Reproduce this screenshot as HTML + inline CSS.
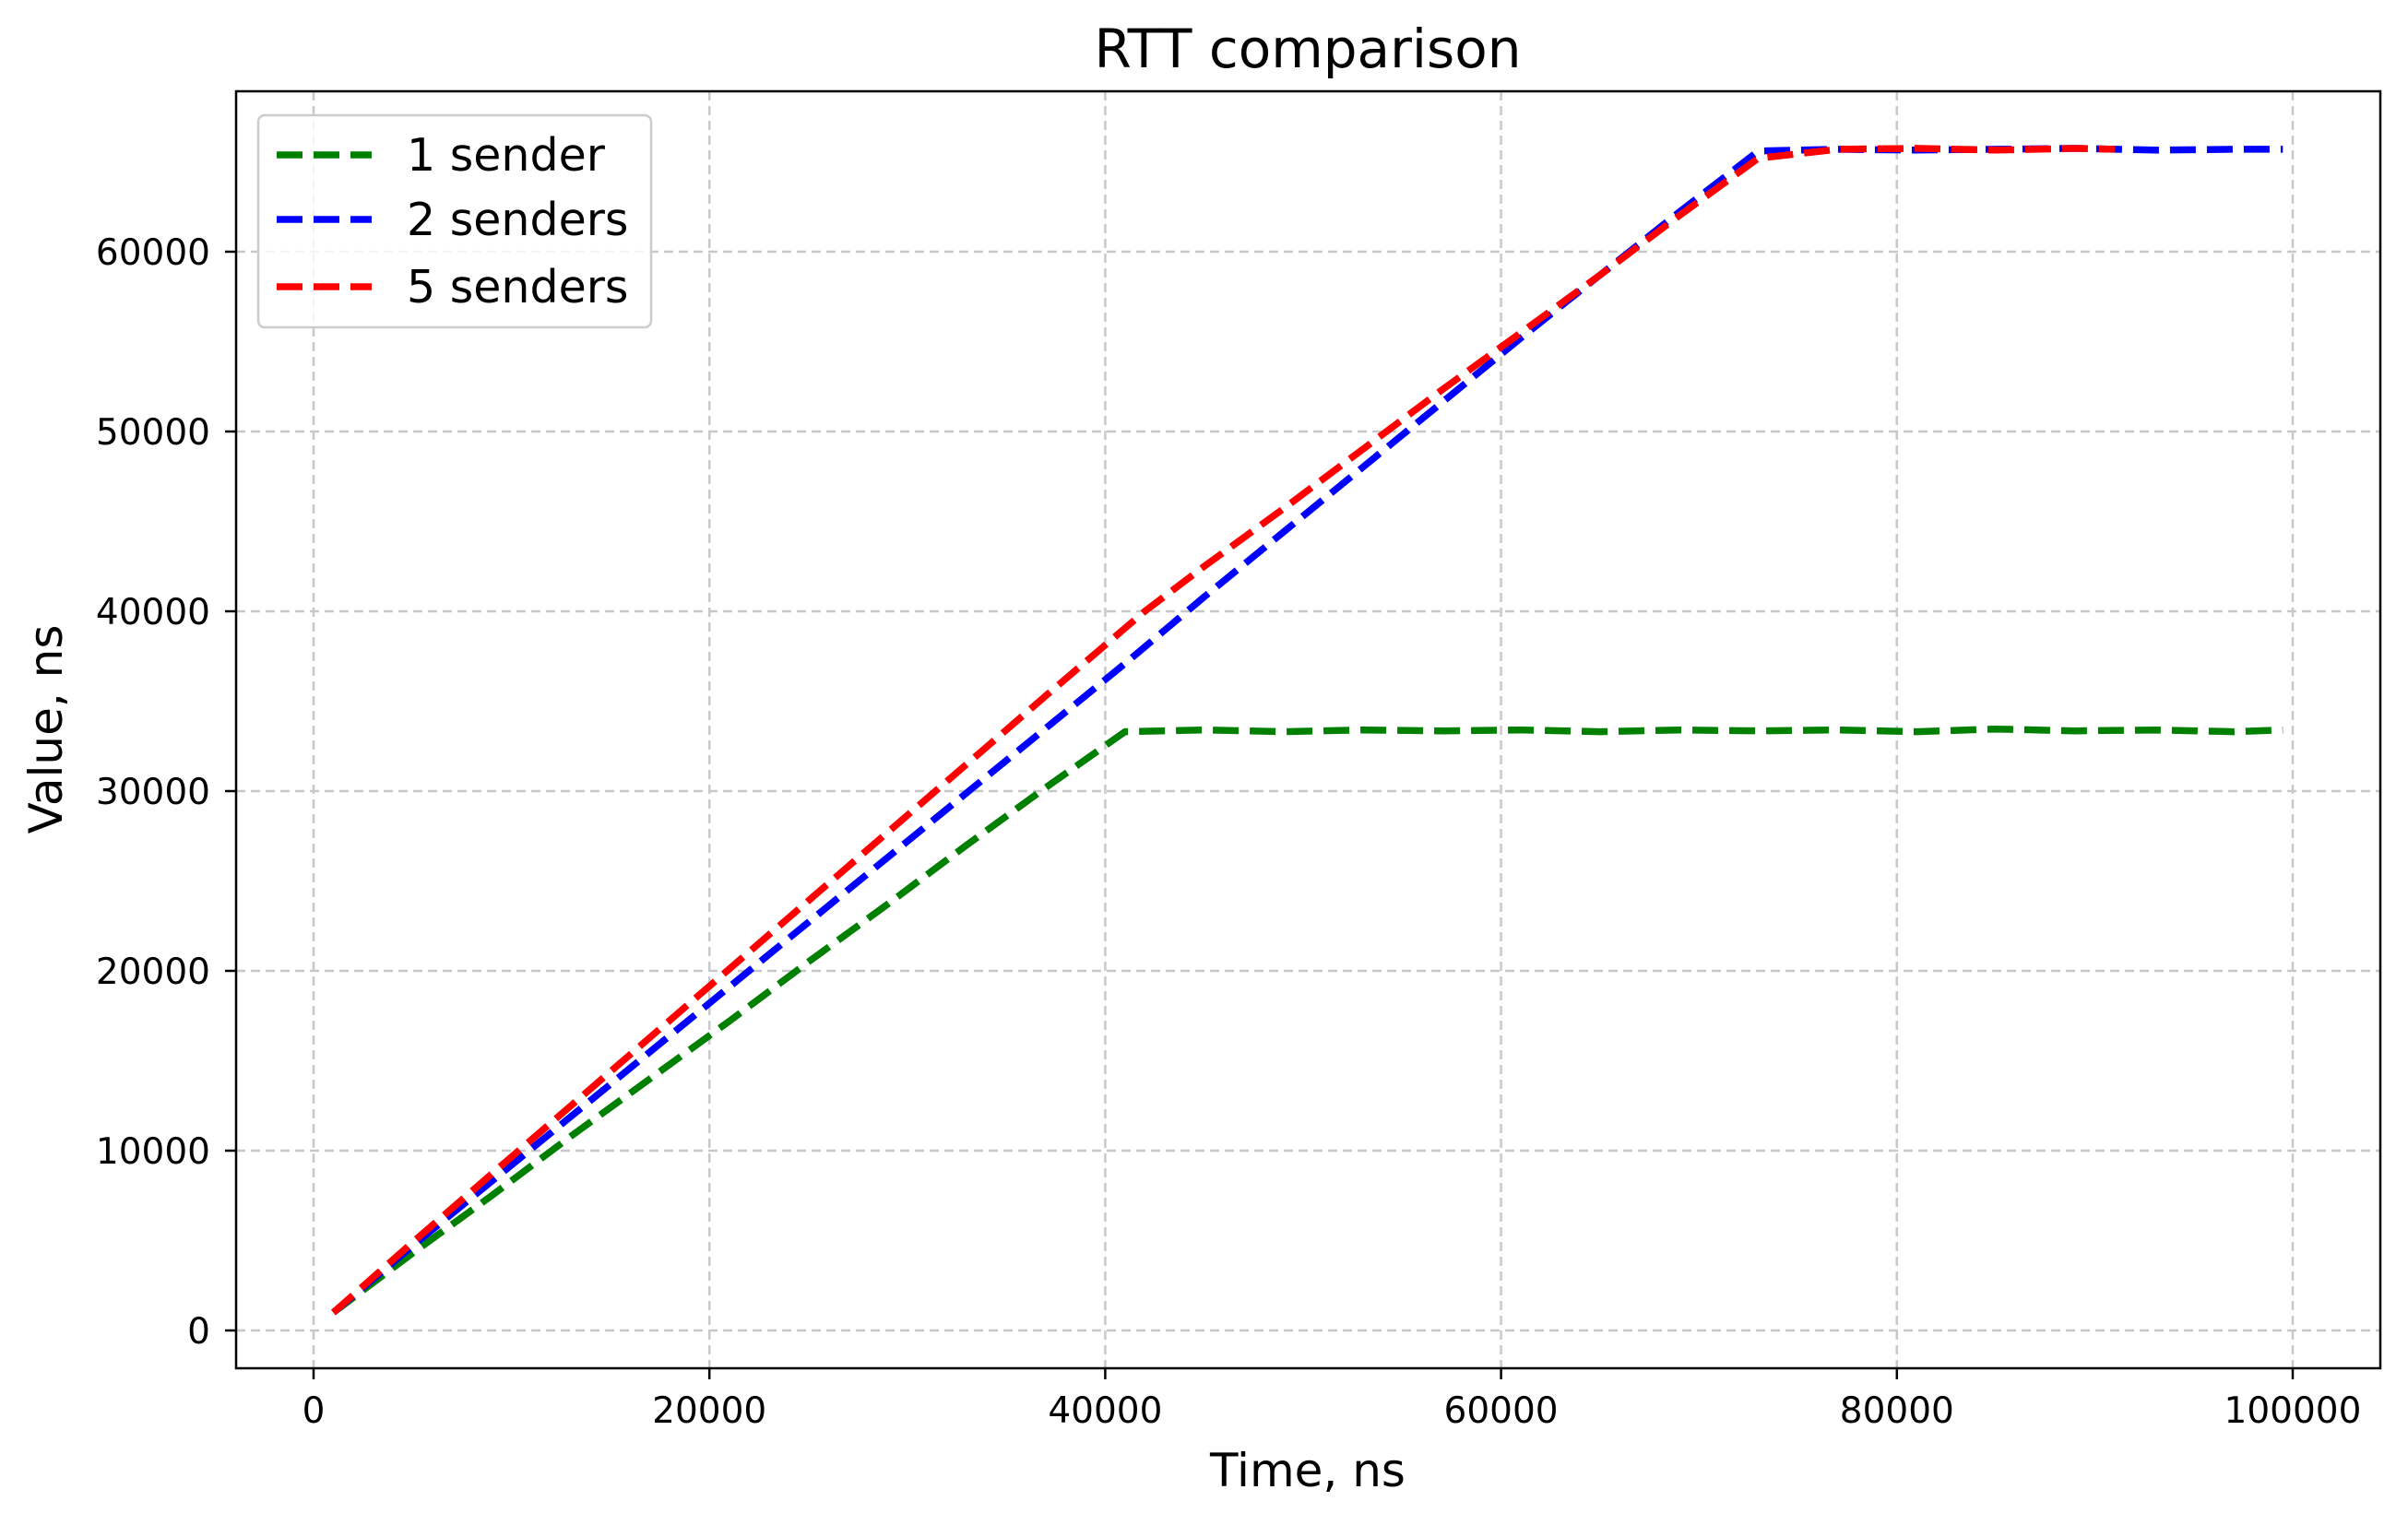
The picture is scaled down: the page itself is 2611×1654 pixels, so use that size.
<!DOCTYPE html>
<html><head><meta charset="utf-8">
<style>
html,body{margin:0;padding:0;background:#fff;}
svg text{font-family:"DejaVu Sans","Liberation Sans",sans-serif;fill:#000;}
</style></head>
<body>
<svg id="chart" width="2611" height="1649" viewBox="0 0 2611 1649" xmlns="http://www.w3.org/2000/svg">
<rect width="2611" height="1649" fill="#fff"/>
<g id="grid"></g>
<g id="series"></g>
<rect x="256" y="99" width="2325" height="1385" fill="none" stroke="#000" stroke-width="2.5"/>
<g id="ticks"></g>
<text x="1418" y="73" font-size="58" text-anchor="middle">RTT comparison</text>
<text x="1418" y="1612" font-size="50" text-anchor="middle">Time, ns</text>
<text x="0" y="0" font-size="50" text-anchor="middle" transform="translate(67,791) rotate(-90)">Value, ns</text>
<g id="legend">
<rect x="280" y="125" width="426" height="230" rx="7" fill="#fff" fill-opacity="0.8" stroke="#ccc" stroke-width="2.5"/>
</g>
</svg>
<script>
const xTicks = [0, 20000, 40000, 60000, 80000, 100000];
const yTicks = [0, 10000, 20000, 30000, 40000, 50000, 60000];
const seriesNames = ["1 sender", "2 senders", "5 senders"];
const seriesColors = ["#008000", "#0000ff", "#ff0000"];
const greenX = [1000,5000,9000,13000,17000,21000,25000,29000,33000,37000,41000,45000,49000,53000,57000,61000,65000,69000,73000,77000,81000,85000,89000,93000,97000,99500];
const greenY = [1000,4300,7500,10800,14000,17200,20500,23700,27000,30200,33300,33400,33300,33400,33350,33400,33300,33400,33350,33400,33300,33450,33350,33400,33300,33400];
const blueX = [1000,5000,9000,13000,17000,21000,25000,29000,33000,37000,41000,45000,49000,53000,57000,61000,65000,69000,73000,77000,81000,85000,89000,93000,97000,99500];
const blueY = [1000,4700,8300,11900,15500,19100,22700,26300,29900,33500,37100,40800,44400,48000,51600,55200,58700,62200,65600,65700,65650,65700,65750,65650,65700,65700];
const redX = [1000,5000,9000,13000,17000,21000,25000,29000,33000,37000,42000,45000,49000,53000,57000,61000,65000,69000,73000,77000,81000,85000,89000,91000];
const redY = [1000,4900,8700,12500,16300,20100,23900,27700,31500,35300,40000,42500,45700,49000,52300,55500,58700,62000,65200,65700,65750,65650,65750,65700];

function sx(v){ return 340 + (v/100000)*(2486-340); }
function sy(v){ return 1443 - (v/60000)*(1443-273); }
const NS = "http://www.w3.org/2000/svg";
function mk(tag, attrs, parent){ const e=document.createElementNS(NS,tag); for(const k in attrs) e.setAttribute(k,attrs[k]); parent.appendChild(e); return e; }

const grid=document.getElementById('grid'), ticks=document.getElementById('ticks');
xTicks.forEach(t=>{
  const g=mk('line',{x1:sx(t),x2:sx(t),y1:99,y2:1484,stroke:'#c8c8c8','stroke-width':2.5,'stroke-dasharray':'10,6'},grid);
  
  
  const tk=mk('line',{x1:sx(t),x2:sx(t),y1:1484,y2:1496,stroke:'#000','stroke-width':2.5},ticks);
  
  
  const tx=mk('text',{x:sx(t),y:1543,'font-size':39,'text-anchor':'middle'},ticks);
  tx.textContent=t;
  
  
});
yTicks.forEach(t=>{
  const g=mk('line',{x1:256,x2:2581,y1:sy(t),y2:sy(t),stroke:'#c8c8c8','stroke-width':2.5,'stroke-dasharray':'10,6'},grid);
  
  
  const tk=mk('line',{x1:244,x2:256,y1:sy(t),y2:sy(t),stroke:'#000','stroke-width':2.5},ticks);
  
  
  const tx=mk('text',{x:228,y:sy(t)+14,'font-size':39,'text-anchor':'end'},ticks);
  tx.textContent=t;
  
  
});
const seriesG=document.getElementById('series');
const allX=[greenX,blueX,redX], allY=[greenY,blueY,redY];
for(let i=0;i<3;i++){
  const d=allX[i].map((x,j)=>(j?'L':'M')+sx(x).toFixed(1)+','+sy(allY[i][j]).toFixed(1)).join(' ');
  const p=mk('path',{d:d,fill:'none',stroke:seriesColors[i],'stroke-width':7.5,'stroke-dasharray':'28,12'},seriesG);
  
  
}
const legend=document.getElementById('legend');
const ly=[168,238,311];
for(let i=0;i<3;i++){
  const l=mk('line',{x1:300,x2:403,y1:ly[i],y2:ly[i],stroke:seriesColors[i],'stroke-width':7.5,'stroke-dasharray':'28,12'},legend);
  
  
  const t=mk('text',{x:441,y:ly[i]+17,'font-size':49},legend);
  t.textContent=seriesNames[i];
  
  
}
</script>
</body></html>
